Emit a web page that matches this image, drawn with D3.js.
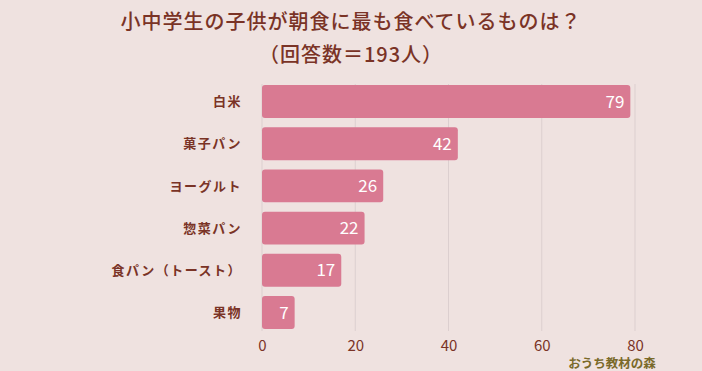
<!DOCTYPE html>
<html><head><meta charset="utf-8">
<script src="https://cdn.jsdelivr.net/npm/d3@7"></script>
<style>
body{margin:0;background:#efe2e0;}
svg{display:block;}
</style></head>
<body>
<svg id="c" width="702" height="371"></svg>
<script>
const categories = ["白米","菓子パン","ヨーグルト","惣菜パン","食パン（トースト）","果物"];
const values = [79,42,26,22,17,7];
const tickValues = [0,20,40,60,80];
const titleLines = ["小中学生の子供が朝食に最も食べているものは？","（回答数＝193人）"];
const watermark = "おうち教材の森";

const svg = d3.select("#c");
const W=702,H=371;
svg.append("rect").attr("width",W).attr("height",H).attr("fill","#efe2e0");
const font = "'Noto Sans CJK JP','Noto Sans',sans-serif";
const brown = "#7a3326";

const x = d3.scaleLinear().domain([0,80]).range([262,635]);
const y = d3.scaleBand().domain(categories).range([80,334]).paddingInner(0.22).paddingOuter(0.12);

// grid
svg.append("g").selectAll("line").data(tickValues).join("line")
  .attr("x1",d=>x(d)).attr("x2",d=>x(d)).attr("y1",84).attr("y2",331)
  .attr("stroke","#dccfcf").attr("stroke-width",1);

// bars
svg.append("g").selectAll("rect").data(values).join("rect")
  .attr("x",x(0)).attr("y",(d,i)=>y(categories[i]))
  .attr("width",d=>x(d)-x(0)).attr("height",y.bandwidth())
  .attr("rx",3).attr("fill","#d97a92");

// value labels
svg.append("g").selectAll("text").data(values).join("text")
  .attr("x",d=>x(d)-6).attr("y",(d,i)=>y(categories[i])+y.bandwidth()/2)
  .attr("dy","0.36em").attr("text-anchor","end")
  .attr("font-family",font).attr("font-size",17).attr("fill","#fff")
  .text(d=>d);

// category labels
svg.append("g").selectAll("text").data(categories).join("text")
  .attr("x",242).attr("y",d=>y(d)+y.bandwidth()/2).attr("dy","0.36em")
  .attr("text-anchor","end").attr("font-family",font).attr("font-size",13)
  .attr("font-weight","bold").attr("letter-spacing","1.5px").attr("fill",brown)
  .text(d=>d);

// x axis
const ax = d3.axisBottom(x).tickValues(tickValues).tickSize(0).tickPadding(0);
const g = svg.append("g").attr("transform","translate(0,340)").call(ax);
g.select(".domain").remove();
g.selectAll("text").attr("font-family",font).attr("font-size",15).attr("fill",brown).attr("dy","0.71em");

// title
svg.append("g").selectAll("text").data(titleLines).join("text")
  .attr("x",351).attr("y",(d,i)=>29+i*33).attr("text-anchor","middle")
  .attr("font-family",font).attr("font-size",20).attr("font-weight","500")
  .attr("letter-spacing","1px").attr("fill",brown).text(d=>d);

svg.append("text").attr("x",612).attr("y",368).attr("text-anchor","middle")
  .attr("font-family",font).attr("font-size",12.5).attr("font-weight","bold")
  .attr("fill","#7a6a2a").text(watermark);
</script>
</body></html>
